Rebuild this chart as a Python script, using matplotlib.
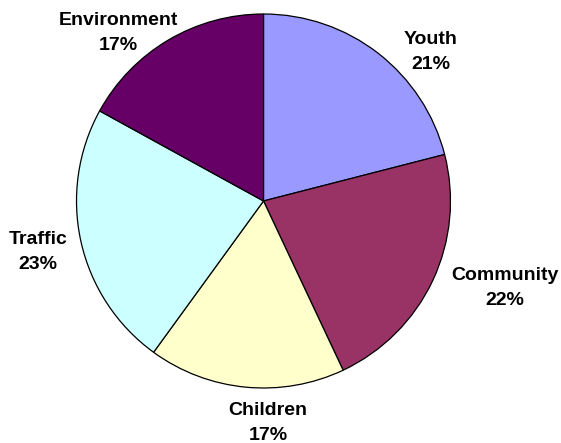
import matplotlib
matplotlib.use("Agg")
import matplotlib.pyplot as plt

# data
labels = ["Youth", "Community", "Children", "Traffic", "Environment"]
values = [21, 22, 17, 23, 17]
colors = ["#9999FF", "#993366", "#FFFFCC", "#CCFFFF", "#660066"]

# layout (pixel coords, origin top-left)
W, H = 561, 443
center = (263.5, 201)
radius = 187
label_xy = [(431, 52), (505, 288), (268, 423), (38, 252), (118, 33)]

plt.rcParams['font.family'] = ['Liberation Sans', 'DejaVu Sans']

fig = plt.figure(figsize=(W / 100, H / 100), dpi=100)
ax = fig.add_axes([0, 0, 1, 1])
ax.pie(values, colors=colors, startangle=90, counterclock=False,
       center=(center[0], H - center[1]), radius=radius,
       wedgeprops=dict(edgecolor="black", linewidth=0.9))
ax.set_xlim(0, W)
ax.set_ylim(0, H)
ax.set_aspect("equal")
ax.axis("off")

for lab, val, (x, y) in zip(labels, values, label_xy):
    ax.text(x, H - y, f"{lab}\n{val}%", ha="center", va="center",
            multialignment="center", fontsize=14, fontweight="bold",
            linespacing=1.55)

fig.savefig("out.png", dpi=100)
